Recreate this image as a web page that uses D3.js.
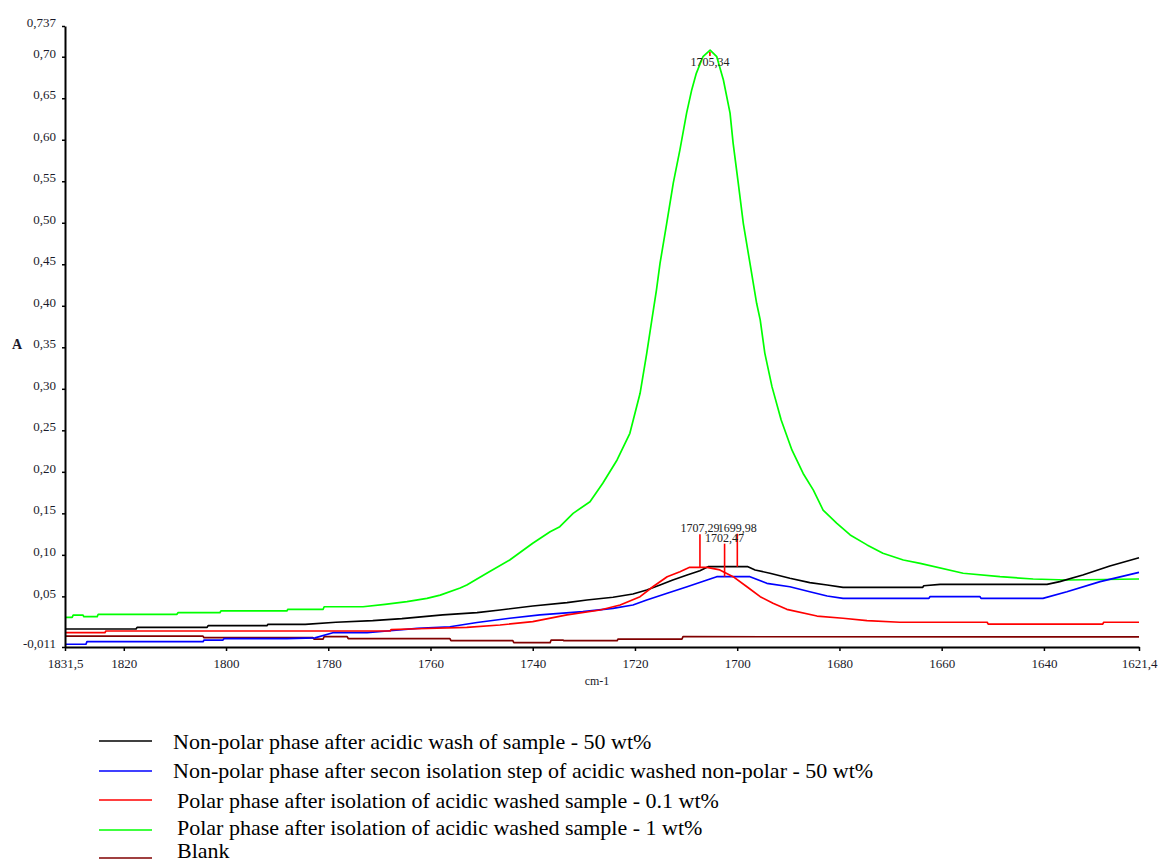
<!DOCTYPE html>
<html>
<head>
<meta charset="utf-8">
<script src="https://cdn.jsdelivr.net/npm/d3@7"></script>
<style>
  html, body { margin: 0; padding: 0; background: #fff; }
  svg { display: block; }
  text { font-family: "Liberation Serif", "Times New Roman", serif; }
</style>
</head>
<body>
<svg id="chart" width="1160" height="863"></svg>
<script>
// ---------- DATA ----------
const seriesNames = [
  "Non-polar phase after acidic wash of sample - 50 wt%",
  "Non-polar phase after secon isolation step of acidic washed non-polar - 50 wt%",
  "Polar phase after isolation of acidic washed sample - 0.1 wt%",
  "Polar phase after isolation of acidic washed sample - 1 wt%",
  "Blank"
];
const seriesColors = ["#000000", "#0000ff", "#ff0000", "#00ff00", "#800000"];

// [wavenumber (cm-1), absorbance]
const blackData = [
  [1831.5,0.0107],[1817.6,0.0107],[1817.4,0.0127],[1803.7,0.0127],[1803.5,0.0147],[1792.0,0.0147],
  [1791.8,0.0163],[1784.5,0.0163],[1778.5,0.0188],[1771.3,0.0207],[1765.6,0.0231],[1757.6,0.0276],
  [1750.9,0.0303],[1746.4,0.0336],[1740.0,0.0384],[1733.3,0.0424],[1729.4,0.0456],[1724.3,0.0489],
  [1720.4,0.0528],[1717.7,0.0577],[1715.1,0.0637],[1712.6,0.0697],[1709.8,0.0757],[1707.3,0.0809],
  [1705.7,0.0857],[1697.9,0.0857],[1696.5,0.0818],[1693.6,0.0778],[1689.7,0.0718],[1685.8,0.0665],
  [1682.4,0.0637],[1679.3,0.0609],[1663.7,0.0609],[1663.5,0.0628],[1660.3,0.0645],[1639.4,0.0645],
  [1636.9,0.0677],[1632.4,0.0757],[1627.1,0.0866],[1621.4,0.0965]
];
const blueData = [
  [1831.5,-0.0077],[1827.4,-0.0077],[1827.2,-0.0046],[1804.5,-0.0046],[1804.3,-0.0026],[1800.6,-0.0026],
  [1800.4,-0.0010],[1788.1,-0.0010],[1782.6,0.0000],[1779.1,0.0062],[1772.4,0.0062],[1767.9,0.0086],
  [1762.6,0.0115],[1756.2,0.0134],[1750.9,0.0185],[1744.5,0.0236],[1738.6,0.0276],[1730.2,0.0315],
  [1724.3,0.0356],[1720.4,0.0396],[1717.7,0.0456],[1713.7,0.0537],[1709.8,0.0616],[1705.9,0.0697],
  [1704.0,0.0737],[1697.5,0.0737],[1694.2,0.0657],[1689.7,0.0616],[1685.8,0.0556],[1682.4,0.0504],
  [1679.3,0.0476],[1662.5,0.0476],[1662.3,0.0496],[1652.5,0.0496],[1652.3,0.0476],[1640.2,0.0476],
  [1635.5,0.0556],[1629.0,0.0677],[1621.4,0.0788]
];
const redData = [
  [1831.5,0.0062],[1823.7,0.0062],[1823.5,0.0083],[1767.9,0.0083],[1767.7,0.0100],[1762.6,0.0110],
  [1752.9,0.0127],[1746.4,0.0155],[1740.0,0.0195],[1733.3,0.0276],[1726.8,0.0336],[1722.9,0.0396],
  [1719.0,0.0496],[1716.5,0.0616],[1713.7,0.0737],[1711.2,0.0797],[1709.3,0.0850],[1705.9,0.0850],
  [1703.4,0.0818],[1700.8,0.0737],[1698.1,0.0616],[1695.5,0.0496],[1693.0,0.0416],[1690.3,0.0344],
  [1684.4,0.0263],[1679.3,0.0236],[1674.6,0.0207],[1668.2,0.0188],[1651.1,0.0188],[1650.9,0.0165],
  [1628.5,0.0165],[1628.3,0.0188],[1621.4,0.0188]
];
const greenData = [
  [1831.5,0.0248],[1830.1,0.0248],[1829.9,0.0275],[1828.0,0.0275],[1827.8,0.0255],[1825.2,0.0255],
  [1825.0,0.0284],[1809.6,0.0284],[1809.4,0.0303],[1801.2,0.0303],[1801.0,0.0324],[1788.1,0.0324],
  [1787.9,0.0344],[1781.0,0.0344],[1780.8,0.0375],[1773.2,0.0375],[1768.9,0.0404],[1764.6,0.0436],
  [1760.7,0.0476],[1758.1,0.0515],[1754.2,0.0600],[1752.9,0.0637],[1749.0,0.0778],[1744.5,0.0938],
  [1740.0,0.1139],[1736.6,0.1279],[1734.7,0.1339],[1732.1,0.1500],[1728.8,0.1640],[1726.3,0.1862],
  [1723.5,0.2143],[1721.0,0.2464],[1719.0,0.2946],[1717.7,0.3428],[1716.7,0.3830],[1715.8,0.4190],
  [1715.1,0.4510],[1713.8,0.4990],[1712.5,0.5480],[1711.2,0.5880],[1709.9,0.6320],[1708.9,0.6600],
  [1708.0,0.6800],[1706.7,0.7000],[1705.3,0.7080],[1704.0,0.7000],[1702.7,0.6720],[1701.4,0.6320],
  [1700.8,0.5960],[1699.8,0.5480],[1698.8,0.4990],[1697.5,0.4510],[1696.2,0.4030],[1695.5,0.3830],
  [1694.6,0.3430],[1693.2,0.3026],[1691.4,0.2625],[1689.3,0.2263],[1687.1,0.1980],[1685.1,0.1780],
  [1683.2,0.1540],[1680.5,0.1380],[1677.9,0.1240],[1674.6,0.1120],[1671.5,0.1019],[1667.5,0.0938],
  [1664.2,0.0898],[1655.8,0.0778],[1648.6,0.0737],[1642.1,0.0709],[1635.5,0.0697],[1621.4,0.0709]
];
const blankData = [
  [1831.5,0.0020],[1804.5,0.0020],[1804.3,0.0002],[1783.0,0.0002],[1782.8,-0.0014],[1781.0,-0.0014],
  [1780.8,0.0014],[1776.3,0.0014],[1776.1,-0.0008],[1756.2,-0.0008],[1756.0,-0.0034],[1743.9,-0.0034],
  [1743.7,-0.0058],[1736.6,-0.0058],[1736.4,-0.0026],[1734.1,-0.0026],[1733.9,-0.0034],[1723.5,-0.0034],
  [1723.3,-0.0014],[1710.8,-0.0014],[1710.6,0.0014],[1621.4,0.0012]
];
const seriesData = [blackData, blueData, redData, greenData, blankData];

// peak labels: [label, wavenumber, absorbance]
const peakLabels = [
  ["1705,34", 1705.34, 0.708],
  ["1707,29", 1707.29, 0.0850],
  ["1699,98", 1699.98, 0.0857],
  ["1702,47", 1702.47, 0.0737]
];

const xDomain = [1831.5, 1621.4];
const yDomain = [-0.011, 0.737];
const xTickValues = [1831.5, 1820, 1800, 1780, 1760, 1740, 1720, 1700, 1680, 1660, 1640, 1621.4];
const xTickLabels = ["1831,5","1820","1800","1780","1760","1740","1720","1700","1680","1660","1640","1621,4"];
const yTickValues = [-0.011,0.05,0.10,0.15,0.20,0.25,0.30,0.35,0.40,0.45,0.50,0.55,0.60,0.65,0.70,0.737];
const yTickLabels = ["-0,011","0,05","0,10","0,15","0,20","0,25","0,30","0,35","0,40","0,45","0,50","0,55","0,60","0,65","0,70","0,737"];
const xAxisTitle = "cm-1";
const yAxisTitle = "A";

// ---------- LAYOUT ----------
const svg = d3.select("#chart");
const plot = { left: 65, right: 1139, top: 26, bottom: 647 };

const x = d3.scaleLinear().domain(xDomain).range([plot.left, plot.right]);
const y = d3.scaleLinear().domain(yDomain).range([plot.bottom, plot.top]);

// series lines
const line = d3.line().x(d => x(d[0])).y(d => y(d[1]));
const drawOrder = [4, 3, 0, 1, 2];
drawOrder.forEach(i => {
  svg.append("path")
    .datum(seriesData[i])
    .attr("d", line)
    .attr("fill", "none")
    .attr("stroke", seriesColors[i])
    .attr("stroke-width", 1.7)
    .attr("stroke-linejoin", "round");
});

// peak markers & labels
peakLabels.forEach(([lab, wn, a]) => {
  const px = x(wn), py = y(a);
  let baseY = py - 35;
  let y1 = baseY + 2, y2 = py;
  if (baseY < plot.top + 10) {        // tall peak: label under the apex
    baseY = py + 16;
    y1 = py + 2; y2 = py + 6;
  }
  svg.append("line")
    .attr("x1", px).attr("x2", px)
    .attr("y1", y1).attr("y2", y2)
    .attr("stroke", "#ff0000").attr("stroke-width", 1.6);
  svg.append("text")
    .attr("x", px).attr("y", baseY)
    .attr("text-anchor", "middle")
    .attr("font-size", 12)
    .attr("fill", "#222")
    .text(lab);
});

// axes
const xAxis = d3.axisBottom(x)
  .tickValues(xTickValues)
  .tickFormat((d, i) => xTickLabels[i])
  .tickSizeInner(4).tickSizeOuter(0).tickPadding(8);
const yAxis = d3.axisLeft(y)
  .tickValues(yTickValues)
  .tickFormat((d, i) => yTickLabels[i])
  .tickSizeInner(3).tickSizeOuter(0).tickPadding(6);

const gx = svg.append("g").attr("transform", `translate(0,${plot.bottom})`).call(xAxis);
const gy = svg.append("g").attr("transform", `translate(${plot.left},0)`).call(yAxis);

[gx, gy].forEach(g => {
  g.select(".domain").attr("stroke", "#000").attr("stroke-width", 2);
  g.selectAll(".tick line").attr("stroke", "#000").attr("stroke-width", 1.5);
  g.selectAll(".tick text")
    .attr("font-family", '"Liberation Serif", "Times New Roman", serif')
    .attr("font-size", 13)
    .attr("fill", "#1a1a2a");
});
gy.selectAll(".tick text").attr("dy", "0.05em");

svg.append("text")
  .attr("x", 17).attr("y", 349)
  .attr("text-anchor", "middle")
  .attr("font-size", 14)
  .attr("font-weight", "bold")
  .attr("fill", "#1a1a2a")
  .text(yAxisTitle);

svg.append("text")
  .attr("x", 597).attr("y", 685)
  .attr("text-anchor", "middle")
  .attr("font-size", 12)
  .attr("fill", "#1a1a2a")
  .text(xAxisTitle);

// legend
const legendLineY = [741, 771, 800, 830, 858];
const legendTextY = [749, 778, 808, 835, 858];
const legendTextX = [173, 173, 177, 177, 177];
seriesNames.forEach((name, i) => {
  svg.append("line")
    .attr("x1", 99).attr("x2", 152)
    .attr("y1", legendLineY[i]).attr("y2", legendLineY[i])
    .attr("stroke", seriesColors[i]).attr("stroke-width", 1.6);
  svg.append("text")
    .attr("x", legendTextX[i]).attr("y", legendTextY[i])
    .attr("font-size", 22)
    .attr("fill", "#000")
    .text(name);
});
</script>
</body>
</html>
